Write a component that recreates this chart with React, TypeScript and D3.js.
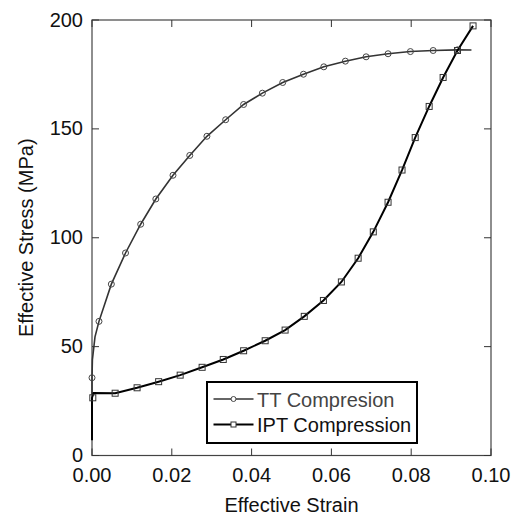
import React from 'react';
import * as d3 from 'd3';

// TT Compression (circles)
const ttStrain = [0, 0.00175, 0.00485, 0.0084, 0.0122, 0.016, 0.0203, 0.0245, 0.0288, 0.0335, 0.038, 0.0427, 0.0478, 0.053, 0.0581, 0.0635, 0.0687, 0.0742, 0.0798, 0.0855, 0.0916];
const ttStress = [35.7, 61.6, 78.7, 93, 106.2, 117.8, 128.7, 137.8, 146.6, 154.2, 161.2, 166.4, 171.3, 175.1, 178.5, 181.1, 183.1, 184.5, 185.5, 186, 186.3];
// extra line-only points for TT
const ttLineExtraStrain = [0, 0.0001, 0.00075, 0.0951];
const ttLineExtraStress = [28, 44, 54.5, 186.2];

// IPT Compression (squares)
const iptStrain = [0.0002, 0.0058, 0.0113, 0.0167, 0.0221, 0.0276, 0.0329, 0.038, 0.0434, 0.0484, 0.0532, 0.058, 0.0625, 0.0667, 0.0705, 0.0742, 0.0777, 0.081, 0.0845, 0.088, 0.0916, 0.0955];
const iptStress = [26.5, 28.6, 31.1, 33.9, 36.9, 40.5, 44.1, 48.1, 52.7, 57.6, 63.9, 71.2, 79.7, 90.6, 102.7, 116.3, 131.1, 146, 160.3, 173.6, 186, 197.3];
const iptLineExtraStrain = [0, 0, 0.0004];
const iptLineExtraStress = [7, 26.5, 28.7];

const xTicks = [0, 0.02, 0.04, 0.06, 0.08, 0.1];
const yTicks = [0, 50, 100, 150, 200];

const legendLabels = ['TT Compresion', 'IPT Compression'];

const W = 516;
const H = 519;
const margin = { left: 92, top: 20, right: 25, bottom: 63.5 };
const font = '"Liberation Sans", Arial, sans-serif';

type Pt = [number, number];

const zip = (xs: number[], ys: number[]): Pt[] => xs.map((x, i) => [x, ys[i]]);

const mergeLine = (a: Pt[], b: Pt[]): Pt[] =>
  [...b, ...a].map((p, i) => ({ p, i })).sort((m, n) => m.p[0] - n.p[0] || m.i - n.i).map(m => m.p);

export default function App() {
  const x = d3.scaleLinear().domain([0, 0.1]).range([margin.left, W - margin.right]);
  const y = d3.scaleLinear().domain([0, 200]).range([H - margin.bottom, margin.top]);

  const ttPts = zip(ttStrain, ttStress);
  const iptPts = zip(iptStrain, iptStress);
  const ttLine = mergeLine(ttPts, zip(ttLineExtraStrain, ttLineExtraStress));
  const iptLine = mergeLine(iptPts.slice(1), zip(iptLineExtraStrain, iptLineExtraStress));

  const line = d3.line<Pt>().x(d => x(d[0])).y(d => y(d[1])).curve(d3.curveLinear);

  const x0 = x.range()[0], x1 = x.range()[1];
  const y0 = y.range()[0], y1 = y.range()[1];
  const tl = 7;

  const lg = { x: 207, y: 382, w: 210, h: 61 };
  const rows = [399, 424.5];

  return (
    <svg width={W} height={H} style={{ position: 'absolute', left: 0, top: 0, background: '#fff' }} fontFamily={font}>
      {/* frame */}
      <rect x={x0} y={y1} width={x1 - x0} height={y0 - y1} fill="none" stroke="#444" strokeWidth={1.2} />
      {/* ticks */}
      {xTicks.map(t => (
        <g key={'xt' + t}>
          <line x1={x(t)} x2={x(t)} y1={y0} y2={y0 - tl} stroke="#333" strokeWidth={1} />
          <line x1={x(t)} x2={x(t)} y1={y1} y2={y1 + tl} stroke="#333" strokeWidth={1} />
          <text x={x(t)} y={482} textAnchor="middle" fontSize={20} fill="#111">{d3.format('.2f')(t)}</text>
        </g>
      ))}
      {yTicks.map(t => (
        <g key={'yt' + t}>
          <line x1={x0} x2={x0 + tl} y1={y(t)} y2={y(t)} stroke="#333" strokeWidth={1} />
          <line x1={x1} x2={x1 - tl} y1={y(t)} y2={y(t)} stroke="#333" strokeWidth={1} />
          <text x={83} y={y(t) + 6.5} textAnchor="end" fontSize={20} fill="#111">{t}</text>
        </g>
      ))}
      {/* axis titles */}
      <text x={(x0 + x1) / 2} y={512} textAnchor="middle" fontSize={20} fill="#111">Effective Strain</text>
      <text transform={`translate(33,${(y0 + y1) / 2}) rotate(-90)`} textAnchor="middle" fontSize={20} fill="#111">Effective Stress (MPa)</text>

      {/* series lines */}
      <path d={line(ttLine) || ''} fill="none" stroke="#333" strokeWidth={1.6} />
      <path d={line(iptLine) || ''} fill="none" stroke="#000" strokeWidth={2} />
      {ttPts.map((d, i) => (
        <circle key={'c' + i} cx={x(d[0])} cy={y(d[1])} r={3} fill="none" stroke="#444" strokeWidth={1} />
      ))}
      {iptPts.map((d, i) => (
        <rect key={'s' + i} x={x(d[0]) - 3} y={y(d[1]) - 3} width={6} height={6} fill="none" stroke="#333" strokeWidth={1} />
      ))}

      {/* legend */}
      <rect x={lg.x} y={lg.y} width={lg.w} height={lg.h} fill="#fff" stroke="#000" strokeWidth={2} />
      <line x1={213.5} x2={253.5} y1={rows[0]} y2={rows[0]} stroke="#333" strokeWidth={1.6} />
      <circle cx={233.5} cy={rows[0]} r={2.5} fill="#fff" stroke="#444" strokeWidth={1} />
      <text x={257} y={rows[0] + 7.5} fontSize={20} fill="#444">{legendLabels[0]}</text>
      <line x1={213.5} x2={253.5} y1={rows[1]} y2={rows[1]} stroke="#000" strokeWidth={2} />
      <rect x={231} y={rows[1] - 2.5} width={5} height={5} fill="#fff" stroke="#333" strokeWidth={1} />
      <text x={257} y={rows[1] + 7.5} fontSize={20} fill="#111">{legendLabels[1]}</text>
    </svg>
  );
}
